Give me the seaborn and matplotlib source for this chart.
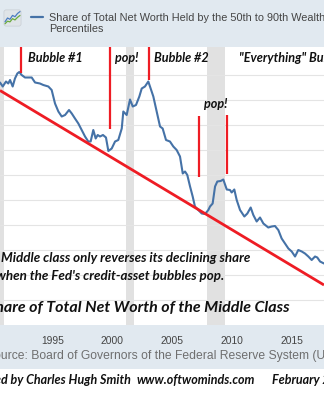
import matplotlib
matplotlib.use("Agg")
import matplotlib.pyplot as plt
from matplotlib.patches import Rectangle, FancyBboxPatch
import pandas as pd
import seaborn as sns

# ---------------- data ----------------
years = [1990.63, 1990.86, 1991.13, 1991.32, 1991.47, 1991.69, 1991.88, 1992.08, 1992.24, 1992.44,
         1992.72, 1993.00, 1993.28, 1993.56, 1993.97, 1994.25, 1994.67, 1994.95, 1995.23, 1995.51,
         1995.79, 1996.07, 1996.40, 1996.63, 1996.90, 1997.18, 1997.46, 1997.74, 1998.01, 1998.21,
         1998.43, 1998.63, 1998.80, 1998.99, 1999.24, 1999.49, 1999.69, 1999.97, 2000.25, 2000.52,
         2000.81, 2000.94, 2001.22, 2001.50, 2001.73, 2002.00, 2002.28, 2002.48, 2002.75, 2003.03,
         2003.17, 2003.45, 2003.73, 2004.01, 2004.23, 2004.51, 2004.84, 2005.12, 2005.40, 2005.68,
         2005.91, 2006.10, 2006.29, 2006.52, 2006.74, 2006.93, 2007.21, 2007.50, 2007.77, 2008.05,
         2008.19, 2008.41, 2008.61, 2008.80, 2009.08, 2009.30, 2009.59, 2009.86, 2010.00, 2010.22,
         2010.42, 2010.70, 2011.06, 2011.31, 2011.59, 2011.81, 2012.09, 2012.37, 2012.65, 2013.06,
         2013.35, 2013.62, 2013.90, 2014.18, 2014.46, 2014.74, 2015.02, 2015.30, 2015.57, 2015.86,
         2016.13, 2016.41, 2016.69, 2016.97, 2017.16, 2017.39, 2017.72]
share = [35.85, 35.77, 35.87, 35.83, 35.90, 35.77, 35.93, 36.03, 36.06, 36.00,
         35.95, 35.95, 35.95, 35.85, 35.83, 35.80, 35.77, 35.70, 35.43, 35.27,
         35.17, 35.20, 35.30, 35.23, 35.13, 35.03, 34.90, 34.77, 34.67, 34.67,
         34.90, 34.73, 34.80, 34.77, 34.80, 34.75, 34.48, 34.53, 34.67, 34.70,
         34.93, 35.27, 35.20, 35.51, 35.37, 35.40, 35.57, 35.73, 35.77, 35.87,
         35.77, 35.57, 35.27, 34.97, 34.93, 34.70, 34.67, 34.57, 34.50, 34.37,
         34.03, 34.07, 34.00, 33.77, 33.57, 33.37, 33.30, 33.23, 33.22, 33.30,
         33.37, 33.43, 33.77, 33.87, 33.88, 33.91, 33.71, 33.70, 33.65, 33.71,
         33.50, 33.30, 33.17, 33.23, 33.35, 33.20, 33.07, 33.15, 33.03, 32.95,
         32.97, 32.98, 32.90, 32.73, 32.63, 32.53, 32.47, 32.37, 32.50, 32.47,
         32.43, 32.37, 32.30, 32.37, 32.35, 32.27, 32.23]

recession_start = [1990.50, 2001.17, 2007.92]
recession_end = [1991.00, 2001.83, 2009.42]
tick_years = [1990, 1995, 2000, 2005, 2010, 2015, 2020]
grid_values = [31.5, 32.0, 32.5, 33.0, 33.5, 34.0, 34.5, 35.0, 35.5, 36.0]

trend_x = [1990.63, 2017.72]
trend_y = [35.69, 31.80]

marker_x = [1992.39, 1999.83, 2003.11, 2007.24, 2009.65]
marker_lo = [36.05, 34.93, 35.91, 33.95, 34.03]
marker_hi = [36.60, 36.60, 36.60, 35.19, 35.20]

icon_x = [0, 1, 2, 3, 4, 5, 6]
icon_blue = [1.0, 2.2, 1.8, 3.0, 2.6, 3.6, 4.2]
icon_green = [0.4, 1.2, 1.0, 2.0, 1.6, 2.4, 3.0]

legend_label = "Share of Total Net Worth Held by the 50th to 90th Wealth\nPercentiles"
source_text = "Source: Board of Governors of the Federal Reserve System (US)"
title_text = "Share of Total Net Worth of the Middle Class"
note_line1 = "Middle class only reverses its declining share"
note_line2 = "when the Fed's credit-asset bubbles pop."
footer_credit = "Annotated by Charles Hugh Smith"
footer_site = "www.oftwominds.com"
footer_date = "February 2021"

# ---------------- styling ----------------
sns.set_style("white")
plt.rcParams["font.family"] = ["Liberation Sans", "DejaVu Sans"]

W, H = 324, 400
BAND = "#e1e9f0"
LINE_BLUE = "#4572a7"
RED = "#ee1c24"
ANN_FONT = ["Lato", "DejaVu Sans"]

fig = plt.figure(figsize=(W / 100, H / 100), dpi=100)
fig.patch.set_facecolor("white")


def fx(x):
    return x / W


def fy(y):
    return 1 - y / H


# bands
fig.patches.append(Rectangle((0, fy(47)), 1, 47 / H, transform=fig.transFigure,
                             facecolor=BAND, edgecolor="none", zorder=-10))
fig.patches.append(Rectangle((0, fy(369)), 1, (369 - 324.5) / H, transform=fig.transFigure,
                             facecolor=BAND, edgecolor="none", zorder=-10))

# main axes
top_px, bot_px = 47, 324.5
ax = fig.add_axes([0, fy(bot_px), 1, (bot_px - top_px) / H])
ax.set_facecolor("white")

for s, e in zip(recession_start, recession_end):
    ax.axvspan(s, e, color="#e1e1e1", lw=0, zorder=0)
for g in grid_values:
    ax.axhline(g, color="#e4e4e4", lw=0.8, zorder=1)

df = pd.DataFrame({"year": years, "share": share})
sns.lineplot(data=df, x="year", y="share", ax=ax, color=LINE_BLUE, lw=1.5, zorder=3)

ax.plot(trend_x, trend_y, color=RED, lw=2.0, zorder=4, solid_capstyle="butt")
ax.vlines(marker_x, marker_lo, marker_hi, color=RED, lw=1.6, zorder=4)

ax.set_xlim(1990.63, 2017.72)
ax.set_ylim(31.01, 36.56)
ax.set_xlabel("")
ax.set_ylabel("")
ax.set_yticks([])
ax.set_xticks(tick_years)
ax.set_xticklabels([str(t) for t in tick_years], fontsize=7.4, color="#444444")
ax.set_xlim(1990.63, 2017.72)
ax.tick_params(axis="x", length=4, color="#c8d4e0", pad=4, width=0.8)
for sp in ax.spines.values():
    sp.set_visible(False)

# annotations (bold italic)
ann = dict(fontfamily=ANN_FONT, fontweight="bold", fontstyle="italic", color="#111111")
fig.text(fx(28), fy(57.5), "Bubble #1", ha="left", va="center", fontsize=9.1, **ann)
fig.text(fx(115), fy(57.5), "pop!", ha="left", va="center", fontsize=9.1, **ann)
fig.text(fx(154), fy(57.5), "Bubble #2", ha="left", va="center", fontsize=9.1, **ann)
fig.text(fx(239), fy(57.5), "\"Everything\" Bubble", ha="left", va="center", fontsize=9.1, **ann)
fig.text(fx(204), fy(104), "pop!", ha="left", va="center", fontsize=9.1, **ann)
fig.text(fx(250), fy(258), note_line1, ha="right", va="center", fontsize=9.6, **ann)
fig.text(fx(224), fy(276), note_line2, ha="right", va="center", fontsize=9.6, **ann)
fig.text(fx(290), fy(308), title_text, ha="right", va="center", fontsize=11.5, **ann)

# legend
iax = fig.add_axes([fx(3), fy(27), 19 / W, 18 / H])
iax.add_patch(FancyBboxPatch((0.05, 0.05), 0.9, 0.9, boxstyle="round,pad=0,rounding_size=0.12",
                             transform=iax.transAxes, facecolor="#dfe4e8", edgecolor="#c8ced4", lw=0.5))
iax.plot(icon_x, icon_green, color="#6aab3c", lw=0.9)
iax.plot(icon_x, icon_blue, color="#4a7cc0", lw=0.9)
iax.set_xlim(-0.8, 6.8)
iax.set_ylim(-0.6, 5.0)
iax.axis("off")

fig.add_artist(plt.Line2D([fx(31), fx(43)], [fy(17), fy(17)], transform=fig.transFigure,
                          color=LINE_BLUE, lw=1.6))
fig.text(fx(49), fy(23.5), legend_label, ha="left", va="center", fontsize=7.8,
         color="#444444", linespacing=1.2)

# source
fig.text(fx(-14), fy(356.5), source_text, ha="left", va="center", fontsize=8.7, color="#6f6f6f")

# footer
fig.text(fx(131), fy(380), footer_credit, ha="right", va="center", fontsize=9.0, **ann)
fig.text(fx(137), fy(380), footer_site, ha="left", va="center", fontsize=9.0, **ann)
fig.text(fx(272), fy(380), footer_date, ha="left", va="center", fontsize=9.0, **ann)

fig.savefig("out.png", dpi=100)
